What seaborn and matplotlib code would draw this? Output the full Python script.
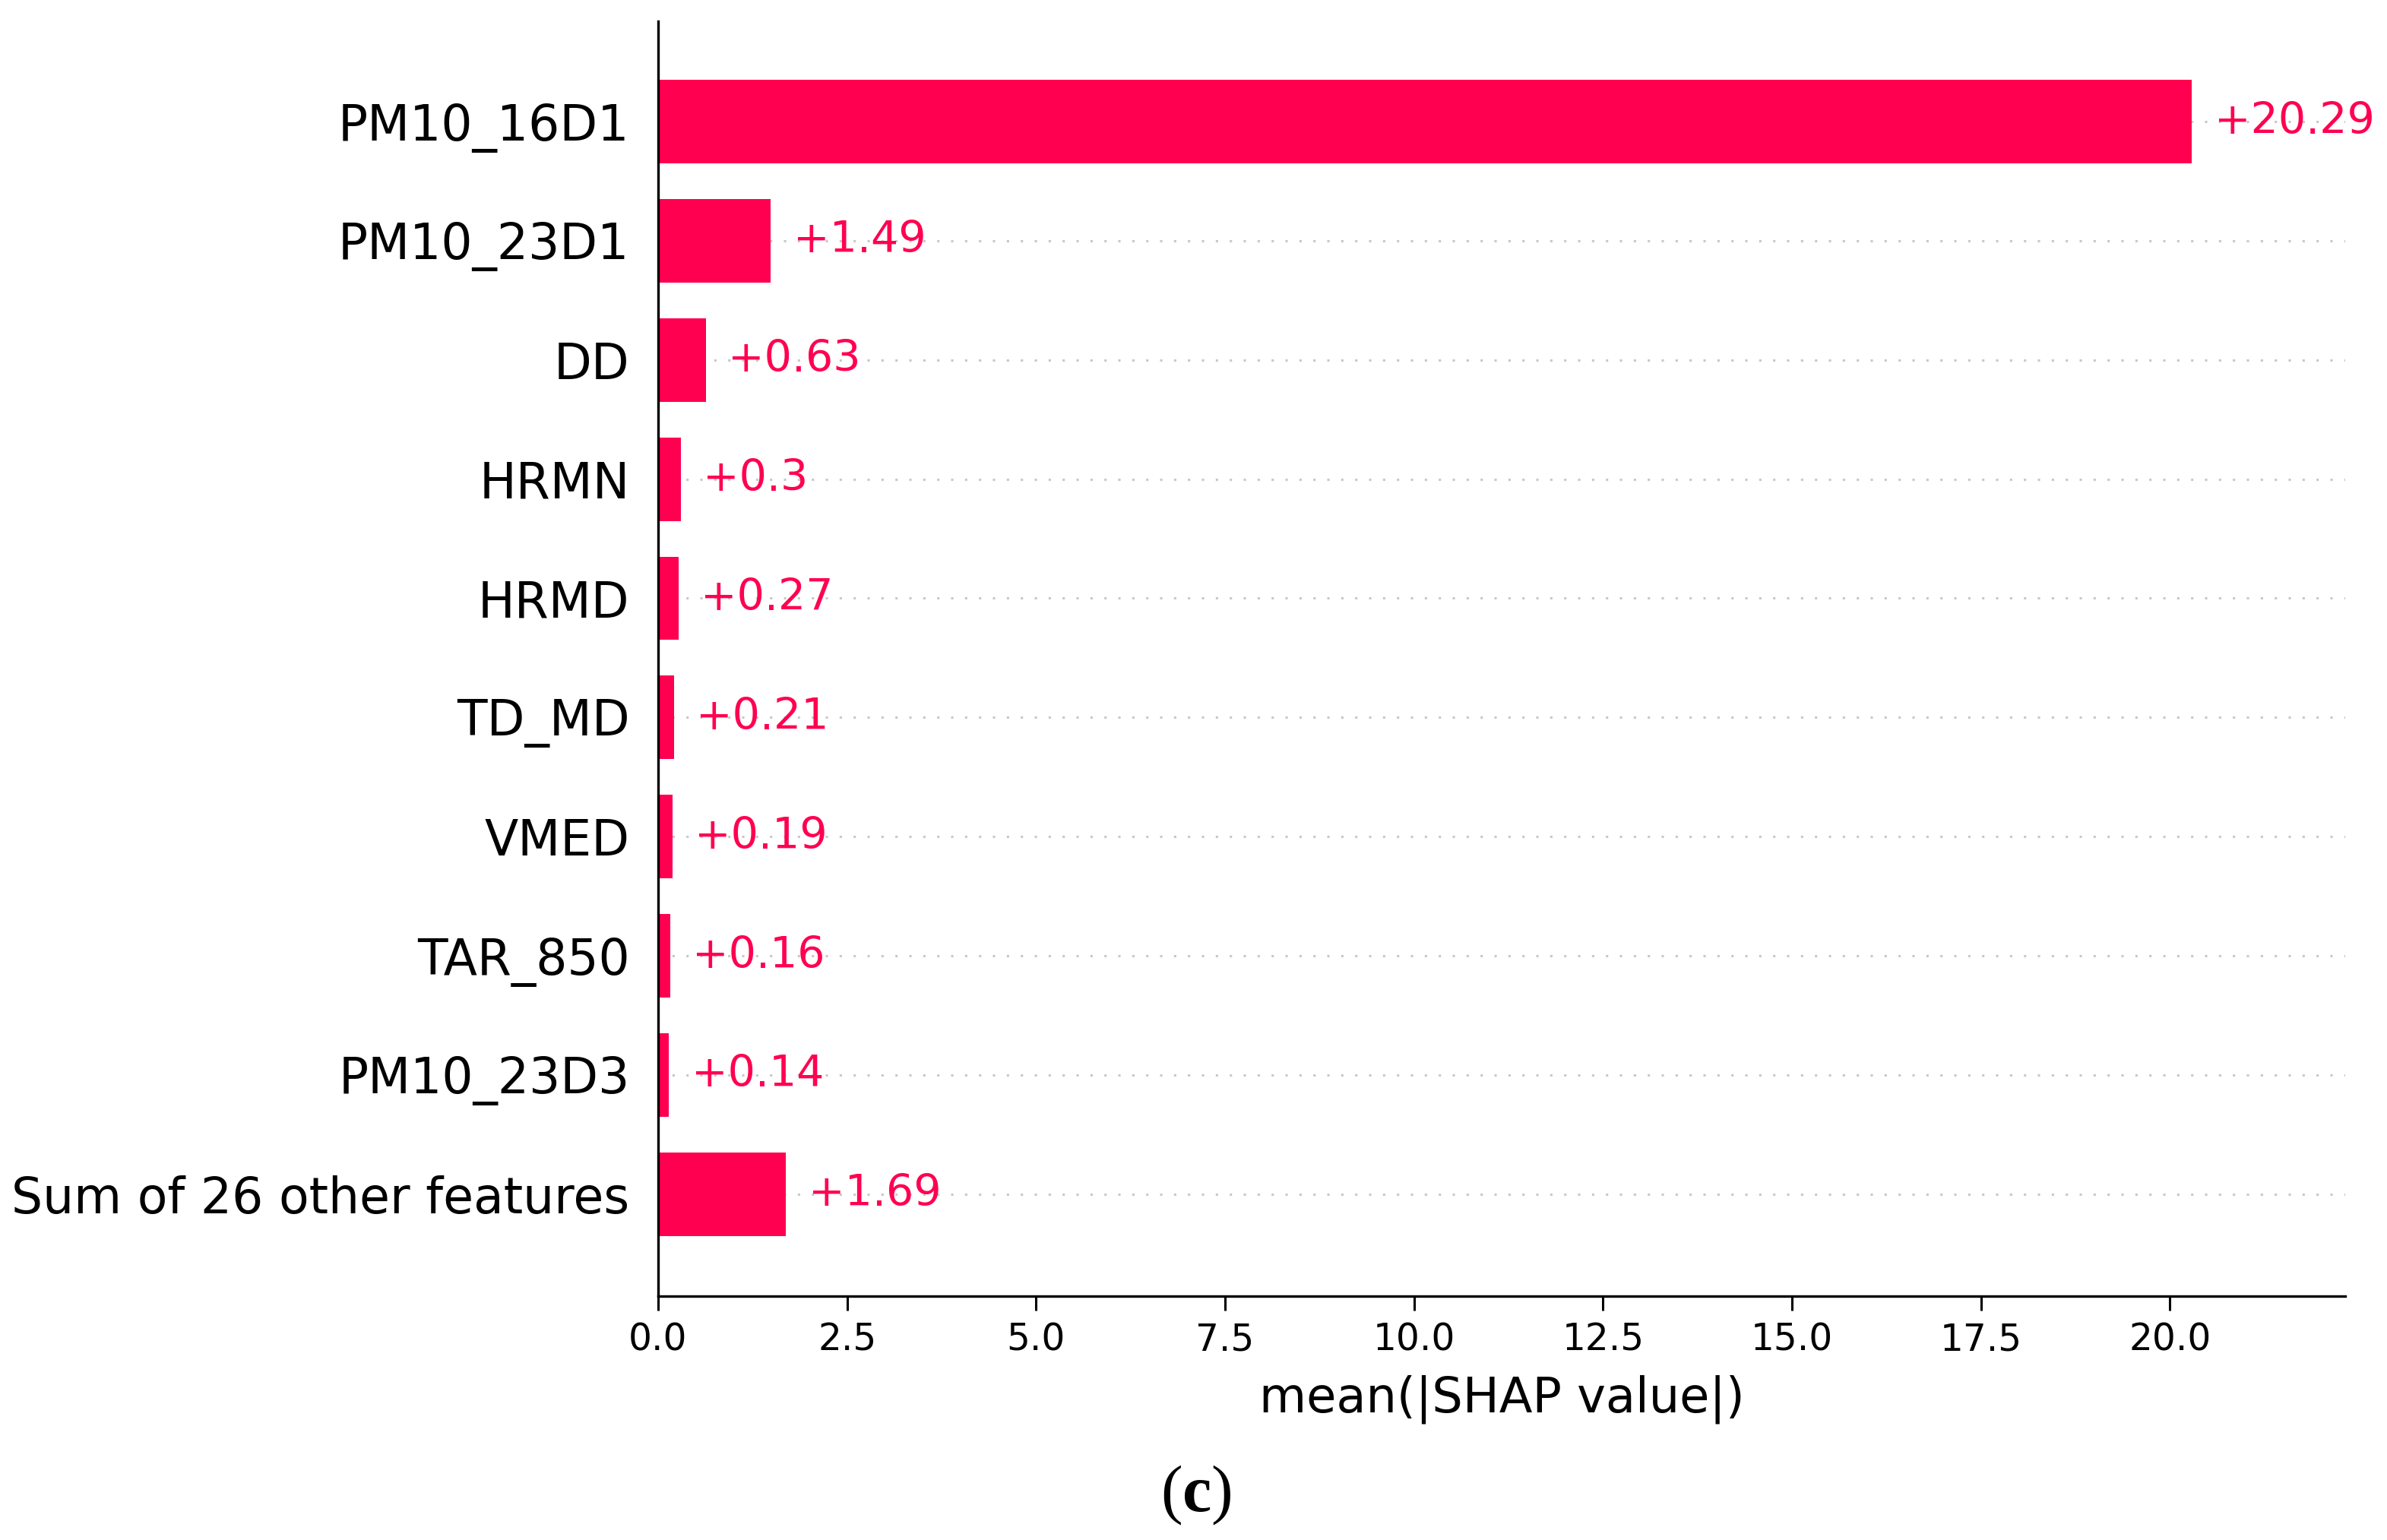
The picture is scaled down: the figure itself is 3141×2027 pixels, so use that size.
import matplotlib
matplotlib.use("Agg")
import matplotlib.pyplot as plt
import seaborn as sns
import pandas as pd

# SHAP mean absolute values per feature (top to bottom)
features = ['PM10_16D1', 'PM10_23D1', 'DD', 'HRMN', 'HRMD', 'TD_MD',
            'VMED', 'TAR_850', 'PM10_23D3', 'Sum of 26 other features']
shap_values = [20.29, 1.49, 0.63, 0.30, 0.27, 0.21, 0.19, 0.16, 0.14, 1.69]
xticks = [0.0, 2.5, 5.0, 7.5, 10.0, 12.5, 15.0, 17.5, 20.0]

SHAP_RED = '#ff0051'


def fmt_value(v):
    s = f"{v:+.2f}"
    s = s.rstrip('0').rstrip('.')
    return s


def draw_chart():
    sns.set_theme(style='white')
    plt.rcParams['font.family'] = ['DejaVu Sans']
    plt.rcParams['text.color'] = 'black'
    plt.rcParams['axes.labelcolor'] = 'black'
    plt.rcParams['mathtext.fontset'] = 'custom'
    plt.rcParams['mathtext.rm'] = 'Liberation Serif'
    plt.rcParams['mathtext.bf'] = 'Liberation Serif:bold'

    df = pd.DataFrame({'feature': features, 'value': shap_values})

    fig = plt.figure(figsize=(15.705, 10.135), dpi=200)
    ax = fig.add_axes([0.2757, 0.1584, 0.7068, 0.8278])

    # light dotted guide lines behind the bars
    for i in range(len(features)):
        ax.axhline(i, color='#c8c8c8', lw=1.1, dashes=(1, 5), zorder=-1)

    sns.barplot(data=df, x='value', y='feature', orient='h', color=SHAP_RED,
                saturation=1, width=0.7, linewidth=0, ax=ax, zorder=2)

    xmax = max(shap_values) * 1.1
    ax.set_xlim(0, xmax)
    ax.set_ylim(len(features) - 1 + 0.855, -0.842)

    # value labels to the right of every bar
    for i, v in enumerate(shap_values):
        ax.text(v + xmax / 75, i, fmt_value(v), ha='left', va='center',
                color=SHAP_RED, fontsize=20.5)

    ax.set_xticks(xticks)
    ax.set_xticklabels([f"{t:.1f}" for t in xticks])
    ax.tick_params(axis='x', labelsize=17.5, length=7, width=1.1,
                   pad=5, color='black', labelcolor='black', bottom=True)
    ax.tick_params(axis='y', labelsize=23.3, length=0, pad=13.5,
                   labelcolor='black', left=False)
    ax.set_ylabel('')
    ax.set_xlabel('mean(|SHAP value|)', fontsize=23, labelpad=8,
                  color='black')

    for side in ['top', 'right']:
        ax.spines[side].set_visible(False)
    for side in ['left', 'bottom']:
        ax.spines[side].set_color('black')
        ax.spines[side].set_linewidth(1.2)

    fig.text(0.501, 0.029, r'($\mathbf{c}$)', ha='center', va='center',
             fontsize=31, family='Liberation Serif', color='black')

    fig.savefig('out.png', dpi=200, facecolor='white')


if __name__ == "__main__":
    draw_chart()
